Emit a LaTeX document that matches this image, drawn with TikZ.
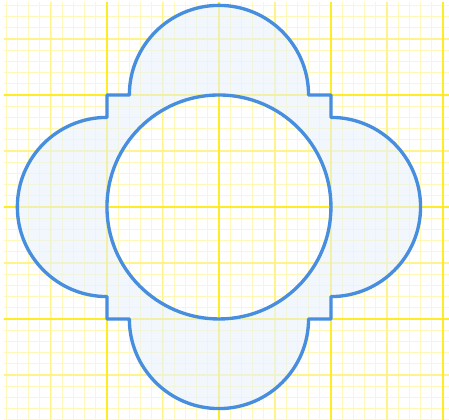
\documentclass[tikz,border=0pt]{standalone}
\usepackage{tikz}
\usetikzlibrary{calc}

\definecolor{paperyellow}{RGB}{255,236,40}
\definecolor{faintyellow}{RGB}{255,248,185}
\definecolor{halfyellow}{RGB}{255,243,140}
\definecolor{rimblue}{RGB}{72,142,222}
\definecolor{paleblue}{RGB}{232,243,250}

\begin{document}
\begin{tikzpicture}[x=2cm, y=2cm,
    minorgrid/.style={faintyellow, line width=0.4pt},
    halfgrid/.style={halfyellow, line width=0.55pt},
    majorgrid/.style={paperyellow, line width=1.1pt},
    rim/.style={rimblue, line width=1.7pt, line join=round}]
    \useasboundingbox (-1.955,-1.902) rectangle (2.054,1.848);
    \fill[white] (-1.955,-1.902) rectangle (2.054,1.848);

    % squared paper
    \begin{scope}
        \clip (-1.92,-1.902) rectangle (2.054,1.83);
        \draw[minorgrid] (-2,-2) grid[step=0.1] (2.1,1.9);
        \draw[halfgrid] (-2,-2) grid[step=0.5] (2.1,1.9);
        \draw[majorgrid] (-2,-2) grid[step=1] (2.1,1.9);
    \end{scope}

    % the shaded frame with the round hole
    \fill[paleblue, even odd rule, fill opacity=0.6]
        (-1,1) -- (-0.8,1) arc (180:0:0.8) -- (1,1) -- (1,0.8)
        arc (90:-90:0.8) -- (1,-1) -- (0.8,-1)
        arc (0:-180:0.8) -- (-1,-1) -- (-1,-0.8)
        arc (270:90:0.8) -- cycle
        (0,0) circle (1);

    % outlines
    \draw[rim]
        (-1,1) -- (-0.8,1) arc (180:0:0.8) -- (1,1) -- (1,0.8)
        arc (90:-90:0.8) -- (1,-1) -- (0.8,-1)
        arc (0:-180:0.8) -- (-1,-1) -- (-1,-0.8)
        arc (270:90:0.8) -- cycle;
    \draw[rim] (0,0) circle (1);
\end{tikzpicture}
\end{document}
